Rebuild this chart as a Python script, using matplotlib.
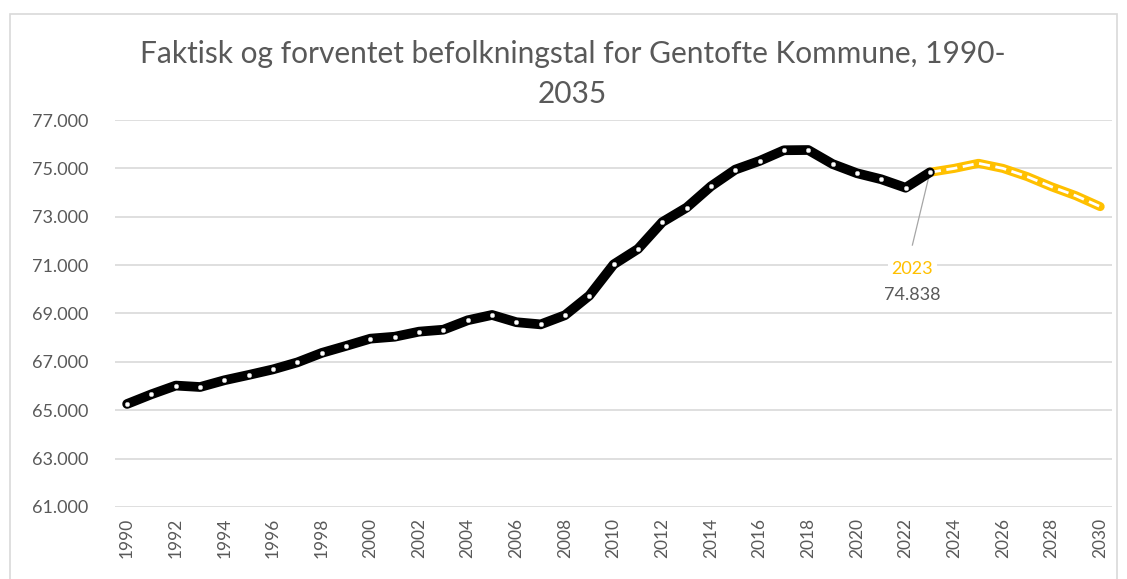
import numpy as np
import matplotlib
matplotlib.use("Agg")
import matplotlib.pyplot as plt
from matplotlib.patches import Rectangle
from matplotlib.ticker import FuncFormatter

plt.rcParams['font.family'] = ['Lato', 'DejaVu Sans']

# actual population 1990-2023
years_actual = list(range(1990, 2024))
pop_actual = [65260, 65660, 66020, 65960, 66240, 66460, 66690, 66980, 67370, 67660,
              67960, 68040, 68250, 68330, 68720, 68940, 68640, 68550, 68930, 69740,
              71030, 71670, 72780, 73380, 74260, 74950, 75310, 75750, 75760, 75180,
              74800, 74550, 74200, 74838]

# forecast 2023-2030
years_fc = list(range(2023, 2031))
pop_fc = [74838, 75000, 75210, 75000, 74660, 74240, 73870, 73420]

y_ticks = list(range(61000, 77001, 2000))
x_ticks = list(range(1990, 2031, 2))

title = "Faktisk og forventet befolkningstal for Gentofte Kommune, 1990-\n2035"
label_year = "2023"
label_value = "74.838"

grey_txt = "#595959"
grid_col = "#D9D9D9"
yellow = "#FFC000"

fig = plt.figure(figsize=(11.27, 5.79), dpi=100)
ax = fig.add_axes([0.102, 0.1244, 0.885, 0.6683])

# chart border
fig.patches.append(Rectangle((10 / 1127, -0.05), 1107 / 1127, 1 - 14 / 579 + 0.05,
                             transform=fig.transFigure, fill=False,
                             edgecolor=grid_col, lw=1.2))

# forecast: yellow line with white dashes inside
ax.plot(years_fc, pop_fc, color=yellow, lw=6.5, solid_capstyle='round',
        solid_joinstyle='round', zorder=3)
ax.plot(years_fc, pop_fc, color='white', lw=2.0, ls=(0, (4, 2)), zorder=4)

# actual: thick black line with small white dots
ax.plot(years_actual, pop_actual, color='black', lw=7, solid_capstyle='round',
        solid_joinstyle='round', zorder=5)
ax.plot(years_actual, pop_actual, ls='none', marker='o', ms=3.2,
        mfc='white', mec='#bbbbbb', mew=0.4, zorder=6)

# callout for 2023
x_lbl, y_tip = 2022.28, 71830
ax.plot([years_actual[-1], x_lbl], [pop_actual[-1], y_tip], color='#a6a6a6', lw=0.9, zorder=4)
ax.text(x_lbl, 70850, label_year, color=yellow, fontsize=13, ha='center', va='center',
        zorder=7, bbox=dict(facecolor='white', edgecolor='none', pad=2.5))
ax.text(x_lbl, 69780, label_value, color=grey_txt, fontsize=13, ha='center', va='center',
        zorder=7)

ax.set_xlim(1989.5, 2030.5)
ax.set_ylim(61000, 77000)
ax.set_yticks(y_ticks)
ax.yaxis.set_major_formatter(FuncFormatter(lambda v, p: f"{int(v):,}".replace(",", ".")))
ax.set_xticks(x_ticks)
ax.tick_params(axis='x', labelrotation=90, length=0, pad=8, labelsize=12.5, labelcolor=grey_txt)
ax.tick_params(axis='y', length=0, pad=19, labelsize=13, labelcolor=grey_txt)
ax.grid(axis='y', color=grid_col, lw=1.2)
ax.set_axisbelow(True)
for s in ax.spines.values():
    s.set_visible(False)

fig.text(0.508, 1 - 74 / 579, title, ha='center', va='center', fontsize=21.5,
         color=grey_txt, linespacing=1.55)

fig.savefig("out.png", dpi=100)
